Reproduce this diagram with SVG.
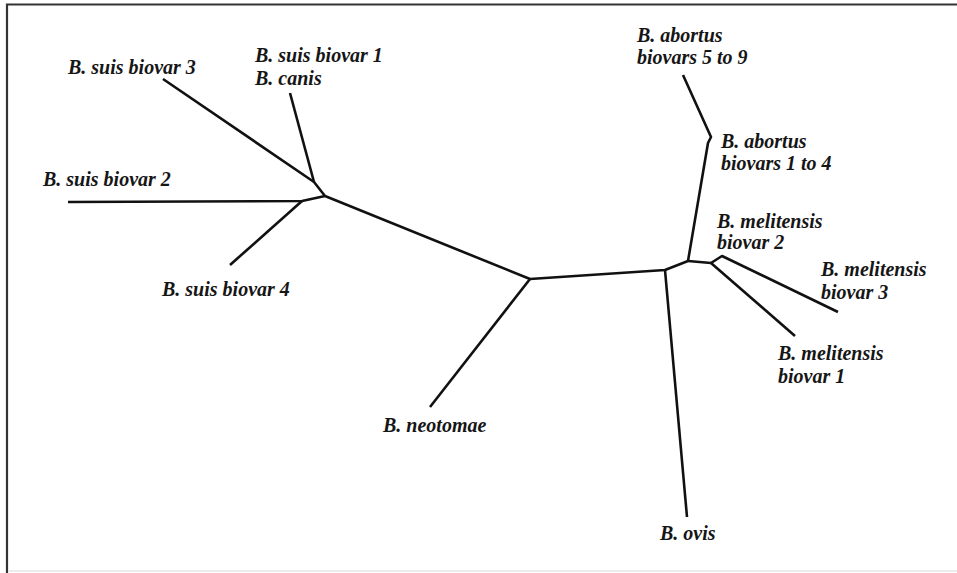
<svg xmlns="http://www.w3.org/2000/svg" width="957" height="573" viewBox="0 0 957 573">
  <style>
    .frame { stroke: #333; stroke-width: 2.2; fill: none; }
    .branch { stroke: #111; stroke-width: 2.6; fill: none; stroke-linejoin: round; stroke-linecap: butt; }
    .label { font-family: "Liberation Serif", "Times New Roman", serif; font-style: italic; font-weight: bold; font-size: 20px; fill: #161616; }
  </style>
  <rect width="957" height="573" fill="#fff"/>
  <!-- border: top and left edges -->
  <path class="frame" d="M7 573 V4.5 H957"/>
  <path d="M9 571 H957" stroke="#e6e6e6" stroke-width="1.5"/>

  <!-- tree branches -->
  <g id="connectors">
    <path class="branch" d="M163 79 L314 182 L325 196"/>
    <path class="branch" d="M290 93 L314 182"/>
    <path class="branch" d="M68 202 L302 201 L325 196"/>
    <path class="branch" d="M230 265 L302 201"/>
    <path class="branch" d="M325 196 L530 279"/>
    <path class="branch" d="M430 407 L530 279"/>
    <path class="branch" d="M530 279 L665 270 L688 261"/>
    <path class="branch" d="M665 270 L687 517"/>
    <path class="branch" d="M688 261 L708 143 L711 137 L683 75"/>
    <path class="branch" d="M688 261 L711 263"/>
    <path class="branch" d="M711 263 L795 336"/>
    <path class="branch" d="M711 263 L722 256 L838 312"/>
  </g>

  <g id="suis-biovar-3"><text class="label" x="68" y="74">B. suis biovar 3</text></g>
  <g id="suis-biovar-1-canis">
    <text class="label" x="255" y="62">B. suis biovar 1</text>
    <text class="label" x="255" y="85">B. canis</text>
  </g>
  <g id="suis-biovar-2"><text class="label" x="43" y="186">B. suis biovar 2</text></g>
  <g id="suis-biovar-4"><text class="label" x="162" y="296">B. suis biovar 4</text></g>
  <g id="neotomae"><text class="label" x="383" y="432">B. neotomae</text></g>
  <g id="ovis"><text class="label" x="660" y="540">B. ovis</text></g>
  <g id="abortus-5-9">
    <text class="label" x="637" y="42">B. abortus</text>
    <text class="label" x="637" y="64">biovars 5 to 9</text>
  </g>
  <g id="abortus-1-4">
    <text class="label" x="721" y="148">B. abortus</text>
    <text class="label" x="721" y="170">biovars 1 to 4</text>
  </g>
  <g id="melitensis-2">
    <text class="label" x="717" y="228">B. melitensis</text>
    <text class="label" x="717" y="249">biovar 2</text>
  </g>
  <g id="melitensis-3">
    <text class="label" x="821" y="276">B. melitensis</text>
    <text class="label" x="821" y="299">biovar 3</text>
  </g>
  <g id="melitensis-1">
    <text class="label" x="778" y="360">B. melitensis</text>
    <text class="label" x="778" y="383">biovar 1</text>
  </g>
</svg>
